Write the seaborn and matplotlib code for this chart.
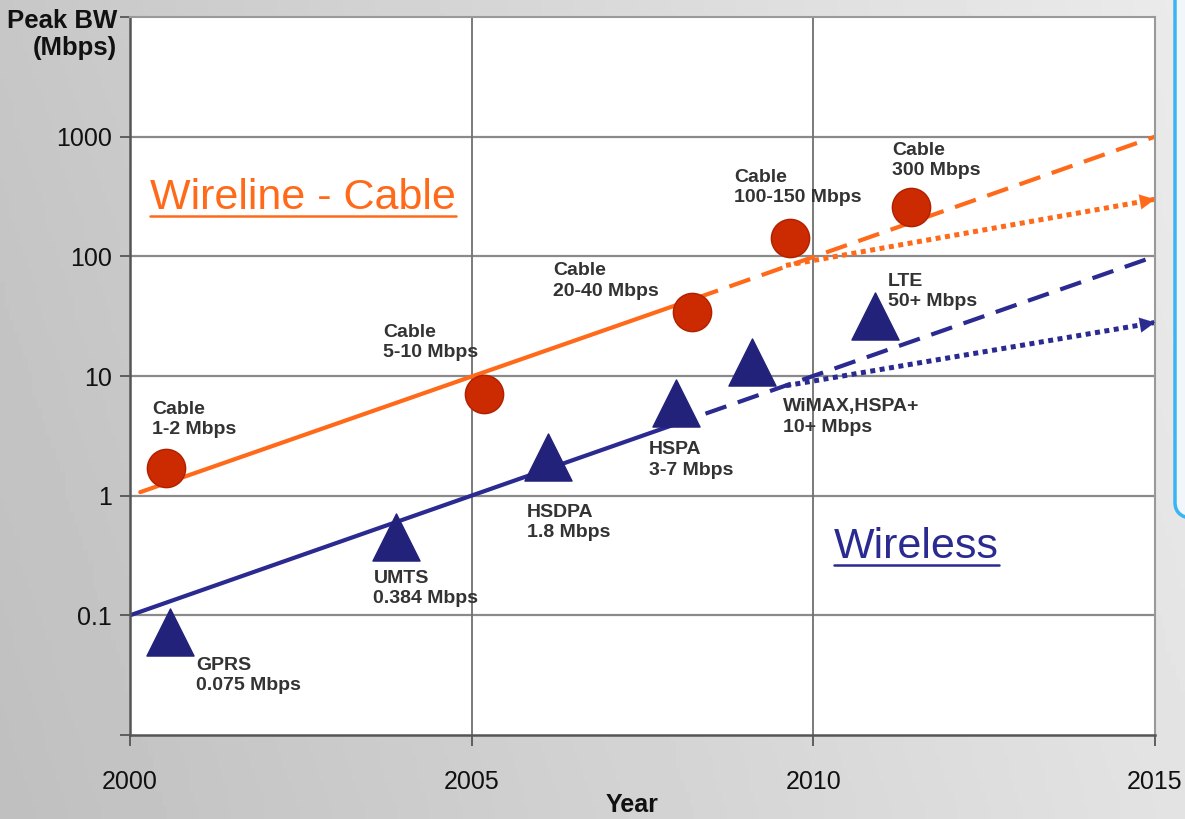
import numpy as np
import matplotlib
matplotlib.use("Agg")
import matplotlib.pyplot as plt
import seaborn as sns
from matplotlib.patches import FancyBboxPatch
from matplotlib.lines import Line2D

# measured points
cable_years = [2000.53, 2005.18, 2008.23, 2009.66, 2011.43]
cable_bw = [1.7, 7.1, 34, 143, 260]
cable_labels = ["Cable\n1-2 Mbps", "Cable\n5-10 Mbps", "Cable\n20-40 Mbps",
                "Cable\n100-150 Mbps", "Cable\n300 Mbps"]

wireless_years = [2000.59, 2003.9, 2006.12, 2007.99, 2009.1, 2010.9]
wireless_bw = [0.073, 0.45, 2.1, 5.9, 13, 32]
wireless_labels = ["GPRS\n0.075 Mbps", "UMTS\n0.384 Mbps", "HSDPA\n1.8 Mbps",
                   "HSPA\n3-7 Mbps", "WiMAX,HSPA+\n10+ Mbps", "LTE\n50+ Mbps"]

# trend lines
cable_solid_x, cable_solid_y = [2000.15, 2008.3], [1.07, 45]
cable_dash_x, cable_dash_y = [2008.3, 2015], [45, 1000]
cable_dot_x, cable_dot_y = [2009.6, 2015], [84, 300]
wl_solid_x, wl_solid_y = [2000, 2007.95], [0.1, 3.9]
wl_dash_x, wl_dash_y = [2007.95, 2015], [3.9, 100]
wl_dot_x, wl_dot_y = [2009.6, 2015], [8.3, 28]

year_ticks = [2000, 2005, 2010, 2015]
bw_ticks = [0.01, 0.1, 1, 10, 100, 1000, 10000]
bw_ticklabels = ["", "0.1", "1", "10", "100", "1000", ""]

# label offsets (pixels) from each marker to the text's top-left corner
cable_offsets = [(-14, 67), (-101, 70), (-139, 50), (-56, 69), (-19, 65)]
wireless_offsets = [(26, -25), (-23, -33), (-21, -47), (-27, -38), (31, -36), (13, 43)]

ORANGE = "#ff6a1a"
RED = "#cc2a00"
NAVY = "#2a2a90"
TRI = "#22227a"

sns.set_theme(style="white")
plt.rcParams["font.family"] = ["Liberation Sans", "DejaVu Sans"]

fig = plt.figure(figsize=(11.85, 8.19), dpi=100)

# grey gradient background
bg = fig.add_axes([0, 0, 1, 1], zorder=-10)
grad = np.linspace(0.76, 0.9, 256)[None, :] + np.linspace(0.02, -0.01, 64)[:, None]
bg.imshow(grad, cmap="gray", vmin=0, vmax=1, aspect="auto", extent=[0, 1, 0, 1])
bg.set_axis_off()

# blue panel edge on the right
fig.patches.append(FancyBboxPatch((1175 / 1185, 300 / 819), 0.2, 0.8,
                                  boxstyle="round,pad=0,rounding_size=0.02",
                                  transform=fig.transFigure, facecolor="#f0f6fa",
                                  edgecolor="#3ab4f2", linewidth=2.5, zorder=-5))

ax = fig.add_axes([130 / 1185, 1 - 735 / 819, 1025 / 1185, 718 / 819])
ax.set_facecolor("white")
ax.set_yscale("log")
ax.set_xlim(2000, 2015)
ax.set_ylim(0.01, 10000)

for v in bw_ticks[1:-1]:
    ax.axhline(v, color="#8a8a8a", lw=1.6, zorder=0)
for v in year_ticks[1:-1]:
    ax.axvline(v, color="#707070", lw=1.3, zorder=0)

lw = 3
sns.lineplot(x=cable_solid_x, y=cable_solid_y, ax=ax, color=ORANGE, linewidth=lw)
sns.lineplot(x=cable_dash_x, y=cable_dash_y, ax=ax, color=ORANGE, linewidth=lw,
             linestyle=(0, (5.3, 2.9)))
sns.lineplot(x=cable_dot_x, y=cable_dot_y, ax=ax, color=ORANGE, linewidth=3.6,
             linestyle=(0, (1, 0.9)))
sns.lineplot(x=wl_solid_x, y=wl_solid_y, ax=ax, color=NAVY, linewidth=lw)
sns.lineplot(x=wl_dash_x, y=wl_dash_y, ax=ax, color=NAVY, linewidth=lw,
             linestyle=(0, (5.3, 2.9)))
sns.lineplot(x=wl_dot_x, y=wl_dot_y, ax=ax, color=NAVY, linewidth=3.6,
             linestyle=(0, (1, 0.9)))

# arrow heads on the dotted lines
for xs, ys, c in [(cable_dot_x, cable_dot_y, ORANGE), (wl_dot_x, wl_dot_y, NAVY)]:
    t = 0.97
    x0 = xs[0] + t * (xs[1] - xs[0])
    y0 = 10 ** (np.log10(ys[0]) + t * (np.log10(ys[1]) - np.log10(ys[0])))
    ax.annotate("", xy=(xs[1], ys[1]), xytext=(x0, y0),
                arrowprops=dict(arrowstyle="-|>,head_length=0.9,head_width=0.45",
                                color=c, lw=0.1, shrinkA=0, shrinkB=0))

sns.scatterplot(x=cable_years, y=cable_bw, ax=ax, color=RED, marker="o", s=760,
                edgecolor="#b02000", linewidth=1, zorder=5)
sns.scatterplot(x=wireless_years, y=wireless_bw, ax=ax, color=TRI, marker="^", s=1150,
                edgecolor=TRI, linewidth=1, zorder=5)

for x, y, lab, off in zip(cable_years, cable_bw, cable_labels, cable_offsets):
    ax.annotate(lab, xy=(x, y), xytext=off, textcoords="offset pixels", ha="left", va="top",
                fontsize=14, fontweight="bold", color="#333333", linespacing=1.25, zorder=6)
for x, y, lab, off in zip(wireless_years, wireless_bw, wireless_labels, wireless_offsets):
    ax.annotate(lab, xy=(x, y), xytext=off, textcoords="offset pixels", ha="left", va="top",
                fontsize=14, fontweight="bold", color="#333333", linespacing=1.25, zorder=6)

t1 = ax.text(2000.29, 309, "Wireline - Cable", fontsize=31, color=ORANGE, va="center", ha="left")
t2 = ax.text(2010.3, 0.375, "Wireless", fontsize=31, color=NAVY, va="center", ha="left")

ax.set_xticks(year_ticks)
ax.set_xticklabels([str(y) for y in year_ticks])
ax.set_yticks(bw_ticks)
ax.set_yticklabels(bw_ticklabels)
ax.minorticks_off()
ax.tick_params(axis="x", direction="out", length=8, width=1.3, color="#555555",
               labelsize=18, pad=17, labelcolor="#111111", bottom=True)
ax.tick_params(axis="y", direction="out", length=7, width=1.3, color="#555555",
               labelsize=18, pad=6, labelcolor="#111111", left=True)

for side in ["left", "bottom"]:
    ax.spines[side].set_color("#555555")
    ax.spines[side].set_linewidth(1.8)
for side in ["top", "right"]:
    ax.spines[side].set_color("#999999")
    ax.spines[side].set_linewidth(1.5)

ax.set_xlabel("Year", fontsize=18, fontweight="bold", color="#111111")
ax.xaxis.set_label_coords((632 - 130) / 1025, -(805 - 735) / 718)
ax.xaxis.label.set_va("center")
ax.set_ylabel("")
fig.text(117 / 1185, 1 - 9 / 819, "Peak BW\n(Mbps)", ha="right", va="top", fontsize=18.5,
         fontweight="bold", color="#111111", linespacing=1.15)

# underline the two big labels
fig.canvas.draw()
r = fig.canvas.get_renderer()
for t, c in [(t1, ORANGE), (t2, NAVY)]:
    bb = t.get_window_extent(r)
    yline = bb.y0 + 2
    fig.add_artist(Line2D([bb.x0 / 1185, bb.x1 / 1185], [yline / 819, yline / 819],
                          color=c, lw=1.8, transform=fig.transFigure))

fig.savefig("out.png", dpi=100)
